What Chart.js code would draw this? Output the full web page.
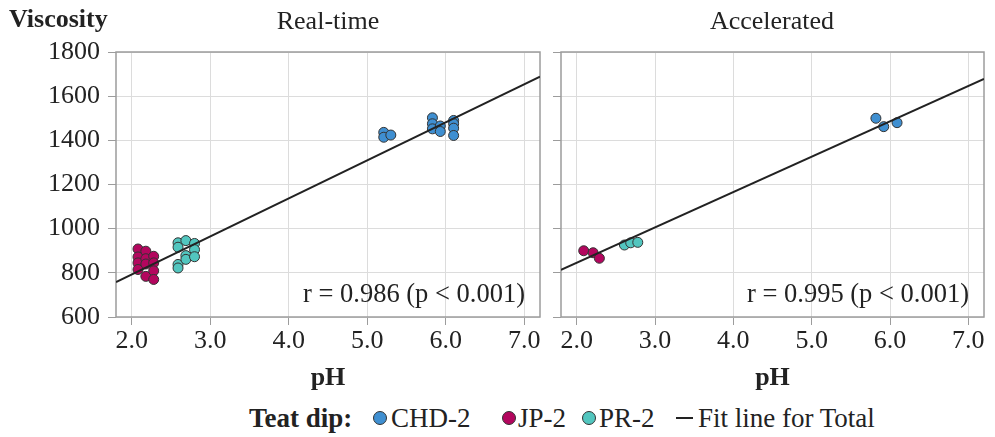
<!DOCTYPE html>
<html>
<head>
<meta charset="utf-8">
<script src="https://cdn.jsdelivr.net/npm/chart.js@4"></script>
<style>
  body { margin: 0; background: #fff; font-family: "Liberation Serif", "Times New Roman", serif; color: #222; }
  #wrap { position: relative; width: 995px; height: 437px; overflow: hidden; }
  canvas { position: absolute; top: 0; }
  .txt { position: absolute; font-size: 26px; line-height: 30px; white-space: nowrap; }
  .panelTitle { transform: translateX(-50%); top: 6px; }
  .lg { position: absolute; top: 403px; font-size: 27px; line-height: 30px; white-space: nowrap; }
  .dot { position: absolute; top: 411px; width: 12px; height: 12px; border-radius: 50%; border: 1px solid #333; }
  .dash { position: absolute; top: 417px; left: 676px; width: 17px; height: 2px; background: #222; }
</style>
</head>
<body>
<div id="wrap">
  <canvas id="chartReal" width="548" height="395" style="left:0px;width:548px;height:395px"></canvas>
  <canvas id="chartAcc" width="447" height="395" style="left:548px;width:447px;height:395px"></canvas>
  <div class="txt" style="left:9px;top:4px;font-weight:bold;">Viscosity</div>
  <div class="txt panelTitle" style="left:328px;">Real-time</div>
  <div class="txt panelTitle" style="left:772px;">Accelerated</div>
  <div class="lg" style="left:249px;font-weight:bold;">Teat dip:</div>
  <div class="dot" style="left:373px;background:#3f8fd1"></div>
  <div class="lg" style="left:391px;">CHD-2</div>
  <div class="dot" style="left:502px;background:#b3065e"></div>
  <div class="lg" style="left:518px;">JP-2</div>
  <div class="dot" style="left:582px;background:#52c6bf"></div>
  <div class="lg" style="left:599px;">PR-2</div>
  <div class="dash"></div>
  <div class="lg" style="left:698px;">Fit line for Total</div>
</div>
<script>
// tick labels / axis ranges
var xTicks = [2, 3, 4, 5, 6, 7];
var yTicks = [600, 800, 1000, 1200, 1400, 1600, 1800];
var seriesNames = ['CHD-2', 'JP-2', 'PR-2'];
var seriesColors = ['#3f8fd1', '#b3065e', '#52c6bf'];

// Real-time panel
var realPhCHD = [5.21, 5.21, 5.30, 5.83, 5.83, 5.83, 5.93, 5.93, 6.10, 6.10, 6.10, 6.10];
var realVisCHD = [1436, 1414, 1424, 1502, 1475, 1452, 1465, 1440, 1490, 1475, 1455, 1422];
var realPhJP = [2.08, 2.08, 2.08, 2.08, 2.18, 2.18, 2.18, 2.18, 2.28, 2.28, 2.28, 2.28];
var realVisJP = [908, 872, 845, 815, 898, 864, 840, 784, 875, 845, 809, 770];
var realPhPR = [2.59, 2.59, 2.59, 2.59, 2.69, 2.69, 2.69, 2.80, 2.80, 2.80];
var realVisPR = [936, 916, 838, 822, 946, 878, 861, 933, 905, 873];
var realFitPh = [1.8, 7.2];
var realFitVis = [758, 1688];

// Accelerated panel
var accPhCHD = [5.82, 5.92, 6.09];
var accVisCHD = [1500, 1462, 1480];
var accPhJP = [2.09, 2.21, 2.29];
var accVisJP = [900, 891, 866];
var accPhPR = [2.61, 2.69, 2.78];
var accVisPR = [926, 936, 938];
var accFitPh = [1.8, 7.2];
var accFitVis = [813, 1678];

var realNote = 'r = 0.986 (p < 0.001)';
var accNote = 'r = 0.995 (p < 0.001)';

function pts(xs, ys) {
  return xs.map(function (x, i) { return { x: x, y: ys[i] }; });
}

var frame = {
  id: 'frame',
  beforeDatasetsDraw: function (chart) {
    var a = chart.chartArea, c = chart.ctx;
    c.save();
    c.strokeStyle = '#9c9c9c';
    c.lineWidth = 1.5;
    c.strokeRect(a.left, a.top, a.right - a.left, a.bottom - a.top);
    c.restore();
  },
  afterDatasetsDraw: function (chart, args, opts) {
    var a = chart.chartArea, c = chart.ctx;
    c.save();
    c.font = '26.5px "Liberation Serif", serif';
    c.fillStyle = '#222';
    c.textAlign = 'right';
    c.textBaseline = 'middle';
    c.fillText(opts.note, a.right - 15, a.bottom - 22);
    c.restore();
  }
};

function makeChart(id, data, fitX, fitY, note, showY) {
  var sets = [{
    label: 'Fit line for Total',
    data: pts(fitX, fitY),
    showLine: true,
    borderColor: '#222',
    borderWidth: 2,
    pointRadius: 0,
    order: 0
  }];
  data.forEach(function (d, i) {
    sets.push({
      label: seriesNames[i],
      data: pts(d[0], d[1]),
      backgroundColor: seriesColors[i],
      borderColor: '#333',
      borderWidth: 1,
      pointRadius: 5,
      order: 1
    });
  });
  return new Chart(document.getElementById(id), {
    type: 'scatter',
    data: { datasets: sets },
    plugins: [frame],
    options: {
      responsive: false,
      animation: false,
      events: [],
      layout: { padding: { top: 52, right: showY ? 8 : 11, left: 0, bottom: 0 } },
      plugins: { legend: { display: false }, tooltip: { enabled: false }, frame: { note: note } },
      scales: {
        x: {
          type: 'linear', min: 1.8, max: 7.2,
          afterBuildTicks: function (s) { s.ticks = xTicks.map(function (v) { return { value: v }; }); },
          afterFit: function (s) { s.height = 78; },
          ticks: { color: '#222', padding: 1, font: { family: '"Liberation Serif", serif', size: 26 },
                   callback: function (v) { return v.toFixed(1); } },
          grid: { color: '#dcdcdc', tickColor: '#9c9c9c', tickLength: 8, lineWidth: 1 },
          border: { display: false },
          title: { display: true, text: 'pH', color: '#222', padding: { top: 0, bottom: 1 },
                   font: { family: '"Liberation Serif", serif', size: 26, weight: 'bold' } }
        },
        y: {
          type: 'linear', min: 600, max: 1800,
          afterBuildTicks: function (s) { s.ticks = yTicks.map(function (v) { return { value: v }; }); },
          afterFit: function (s) { s.width = showY ? 116 : 13; },
          ticks: { display: showY, color: '#222', padding: 8, font: { family: '"Liberation Serif", serif', size: 26 },
                   callback: function (v) { return String(v); } },
          grid: { color: '#dcdcdc', tickColor: '#9c9c9c', tickLength: 8, lineWidth: 1 },
          border: { display: false }
        }
      }
    }
  });
}

makeChart('chartReal', [[realPhCHD, realVisCHD], [realPhJP, realVisJP], [realPhPR, realVisPR]],
  realFitPh, realFitVis, realNote, true);
makeChart('chartAcc', [[accPhCHD, accVisCHD], [accPhJP, accVisJP], [accPhPR, accVisPR]],
  accFitPh, accFitVis, accNote, false);
</script>
</body>
</html>
